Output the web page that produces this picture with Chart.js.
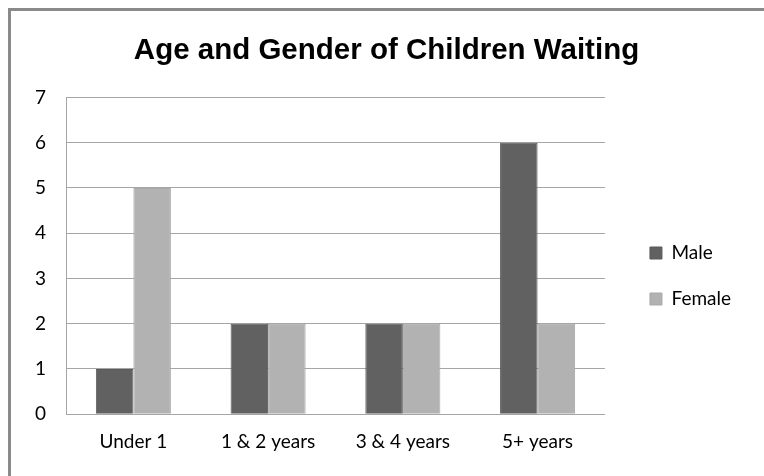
<!DOCTYPE html>
<html>
<head>
<meta charset="utf-8">
<script src="https://cdn.jsdelivr.net/npm/chart.js@4"></script>
<style>
  body { margin: 0; background: #fff; }
  #wrap { position: relative; width: 764px; height: 476px; }
  #frame { position: absolute; left: 8px; top: 8px; width: 800px; height: 500px;
           border-left: 3px solid #8a8a8a; border-top: 3px solid #8a8a8a; }
  canvas { position: absolute; left: 0; top: 0; }
</style>
</head>
<body>
<div id="wrap">
  <div id="frame"></div>
  <canvas id="myChart" width="764" height="476"></canvas>
</div>
<script>
var categories = ['Under 1', '1 & 2 years', '3 & 4 years', '5+ years'];
var maleCounts = [1, 2, 2, 6];
var femaleCounts = [5, 2, 2, 2];
var yTicks = [0, 1, 2, 3, 4, 5, 6, 7];

var tickFont = { family: 'Lato', size: 19 };

// nudge legend and title a little, like the original
var boxShift = {
	id: 'boxShift',
	afterLayout: function(chart) {
		var lg = chart.legend;
		lg.left += 18; lg.right += 18;
		lg.top += 29; lg.bottom += 29;
		var t = chart.titleBlock;
		t.left += 15; t.right += 15;
	}
};

var chart = new Chart(document.getElementById('myChart'), {
	type: 'bar',
	data: {
		labels: categories,
		datasets: [
			{
				label: 'Male',
				data: maleCounts,
				backgroundColor: '#616161',
				borderColor: '#5a5a5a',
				borderWidth: 1
			},
			{
				label: 'Female',
				data: femaleCounts,
				backgroundColor: '#b2b2b2',
				borderColor: '#a8a8a8',
				borderWidth: 1
			}
		]
	},
	options: {
		responsive: false,
		animation: false,
		layout: { padding: { left: 20, right: 41, top: 33, bottom: 15 } },
		datasets: { bar: { categoryPercentage: 0.557, barPercentage: 1 } },
		plugins: {
			title: {
				display: true,
				text: 'Age and Gender of Children Waiting',
				color: '#000',
				font: { family: 'Liberation Sans', size: 29.5, weight: 'bold' },
				padding: { top: 0, bottom: 29 }
			},
			legend: {
				position: 'right',
				labels: {
					color: '#000',
					font: tickFont,
					boxWidth: 12,
					boxHeight: 12,
					padding: 27
				}
			},
			tooltip: { enabled: false }
		},
		scales: {
			x: {
				grid: { display: false },
				border: { color: '#a6a6a6' },
				ticks: { color: '#000', font: tickFont, padding: 8 }
			},
			y: {
				min: 0,
				max: 7,
				afterBuildTicks: function(axis) {
					axis.ticks = yTicks.map(function(v) { return { value: v }; });
				},
				afterFit: function(axis) { axis.width = 46; },
				grid: { color: '#a6a6a6', drawTicks: false },
				border: { color: '#a6a6a6' },
				ticks: { color: '#000', font: tickFont, padding: 20 }
			}
		}
	},
	plugins: [boxShift]
});
</script>
</body>
</html>
